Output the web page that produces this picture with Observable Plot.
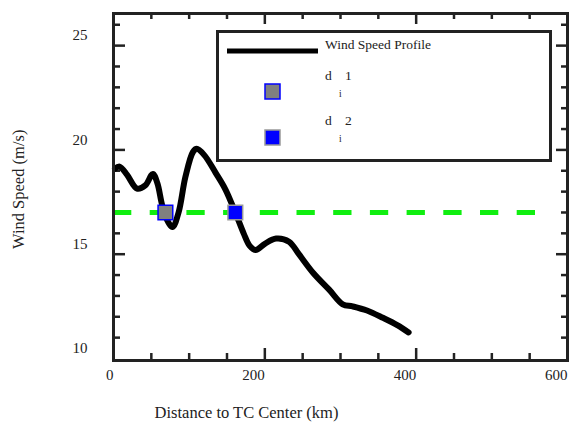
<!DOCTYPE html>
<html>
<head>
<meta charset="utf-8">
<script src="https://cdn.jsdelivr.net/npm/d3@7"></script>
<script src="https://cdn.jsdelivr.net/npm/@observablehq/plot@0.6"></script>
<style>
  body { margin: 0; background: #fff; }
  #wrap { position: relative; width: 570px; height: 423px; font-family: 'Liberation Serif', 'Times New Roman', 'DejaVu Serif', serif; }
  #wrap svg text { font-family: 'Liberation Serif', 'Times New Roman', 'DejaVu Serif', serif; }
  #legend { position: absolute; left: 216px; top: 30px; width: 336px; height: 132px; box-sizing: border-box; border: 3px solid #222; background: #fff; }
  #legend svg { position: absolute; left: -3px; top: -3px; overflow: visible; }
</style>
</head>
<body>
<div id="wrap"></div>
<script>
// ---- data ----
const distance = [2, 8, 18, 31, 42, 52, 58, 64, 70, 78, 86, 95, 105, 110, 120, 135, 148, 161, 172, 180, 188, 200, 215, 232, 245, 264, 285, 303, 316, 335, 356, 375, 390];
const speed    = [19.1, 19.2, 18.8, 18.15, 18.3, 18.85, 18.4, 17.4, 16.7, 16.3, 17.0, 18.7, 19.9, 20.05, 19.75, 18.9, 18.1, 17.0, 16.0, 15.4, 15.2, 15.5, 15.75, 15.6, 15.0, 14.1, 13.3, 12.6, 12.5, 12.3, 11.95, 11.6, 11.25];
const threshold = 17.0;
const thresholdEnd = 560;
const crossingX = [68.6, 161];
const xTickLabels = [0, 200, 400, 600];
const xMinorTicks = [50, 100, 150, 250, 300, 350, 450, 500, 550];
const xMajorTicks = [200, 400];
const yTickLabels = [10, 15, 20, 25];
const yMinorTicks = [11, 12, 13, 14, 16, 17, 18, 19, 21, 22, 23, 24, 26];
const yMajorTicks = [15, 20, 25];
const xTitle = "Distance to TC Center (km)";
const yTitle = "Wind Speed (m/s)";
const legendLabels = ["Wind Speed Profile", "d", "1", "i", "d", "2", "i"];

const profile = distance.map((d, i) => ({distance: d, speed: speed[i]}));

const FW = 454, FH = 347; // frame size in px
const ink = "#222";
const font = "'Liberation Serif', 'Times New Roman', 'DejaVu Serif', serif";

const chart = Plot.plot({
  width: 570, height: 423,
  marginTop: 13, marginBottom: 63, marginLeft: 113, marginRight: 3,
  style: {fontFamily: font, background: "#fff"},
  x: {domain: [0, 600], axis: null},
  y: {domain: [9.904, 26.54], axis: null},
  marks: [
    // ticks (inward)
    Plot.tickX(xMinorTicks, {x: d => d, stroke: ink, strokeWidth: 2.5, insetTop: FH - 7}),
    Plot.tickX(xMajorTicks, {x: d => d, stroke: ink, strokeWidth: 2.5, insetTop: FH - 12}),
    Plot.tickX(xMinorTicks, {x: d => d, stroke: ink, strokeWidth: 2.5, insetBottom: FH - 6}),
    Plot.tickX(xMajorTicks, {x: d => d, stroke: ink, strokeWidth: 2.5, insetBottom: FH - 11}),
    Plot.tickY(yMinorTicks, {y: d => d, stroke: ink, strokeWidth: 2.5, insetRight: FW - 7}),
    Plot.tickY(yMajorTicks, {y: d => d, stroke: ink, strokeWidth: 2.5, insetRight: FW - 12}),
    Plot.tickY(yMinorTicks, {y: d => d, stroke: ink, strokeWidth: 2.5, insetLeft: FW - 6}),
    Plot.tickY(yMajorTicks, {y: d => d, stroke: ink, strokeWidth: 2.5, insetLeft: FW - 11}),
    // tick labels
    Plot.text(xTickLabels, {x: d => d, frameAnchor: "bottom", textAnchor: "end", dy: 19, fontSize: 15, fill: ink}),
    Plot.text(yTickLabels, {y: d => d, frameAnchor: "left", textAnchor: "end", dx: -26, dy: -10, fontSize: 15, fill: ink}),
    // titles
    Plot.text([xTitle], {frameAnchor: "bottom", dx: -94, dy: 57, fontSize: 16.5, fill: ink}),
    Plot.text([yTitle], {frameAnchor: "left", rotate: -90, dx: -95, dy: 62, fontSize: 16.5, fill: ink}),
    // threshold
    Plot.ruleY([threshold], {x1: 0, x2: thresholdEnd, stroke: "#10ee10", strokeWidth: 5, strokeDasharray: "18.3,18.4"}),
    // profile
    Plot.line(profile, {x: "distance", y: "speed", stroke: "#000", strokeWidth: 6, curve: "catmull-rom", strokeLinejoin: "round"}),
    // crossings
    Plot.dot([crossingX[0]], {x: d => d, y: threshold, symbol: "square", r: 8.3, fill: "#808080", stroke: "#0000ff", strokeWidth: 1.5}),
    Plot.dot([crossingX[1]], {x: d => d, y: threshold, symbol: "square", r: 8.3, fill: "#0000ff", stroke: "#999", strokeWidth: 1.5}),
    Plot.frame({stroke: ink, strokeWidth: 3})
  ]
});

const wrap = document.getElementById("wrap");
wrap.appendChild(chart);

// legend (box origin at page 216,30)
const legend = document.createElement("div");
legend.id = "legend";
const ox = 216, oy = 30;
legend.innerHTML = `
<svg width="336" height="132" xmlns="http://www.w3.org/2000/svg" fill="${ink}">
  <line x1="${227-ox}" y1="${51-oy}" x2="${318-ox}" y2="${51-oy}" stroke="#000" stroke-width="5"/>
  <text x="${325-ox}" y="${44-oy}" dominant-baseline="central" font-size="13.5">${legendLabels[0]}</text>
  <rect x="${265-ox}" y="${84-oy}" width="15" height="15" fill="#808080" stroke="#0000ff" stroke-width="1.5"/>
  <text x="${325-ox}" y="${75-oy}" dominant-baseline="central" font-size="13.5">${legendLabels[1]}</text>
  <text x="${345-ox}" y="${75-oy}" dominant-baseline="central" font-size="13.5">${legendLabels[2]}</text>
  <text x="${339-ox}" y="${94-oy}" dominant-baseline="central" font-size="9.5">${legendLabels[3]}</text>
  <rect x="${265-ox}" y="${130-oy}" width="15" height="15" fill="#0000ff" stroke="#999" stroke-width="1.5"/>
  <text x="${325-ox}" y="${120-oy}" dominant-baseline="central" font-size="13.5">${legendLabels[4]}</text>
  <text x="${345-ox}" y="${120-oy}" dominant-baseline="central" font-size="13.5">${legendLabels[5]}</text>
  <text x="${339-ox}" y="${139-oy}" dominant-baseline="central" font-size="9.5">${legendLabels[6]}</text>
</svg>`;
wrap.appendChild(legend);
</script>
</body>
</html>
